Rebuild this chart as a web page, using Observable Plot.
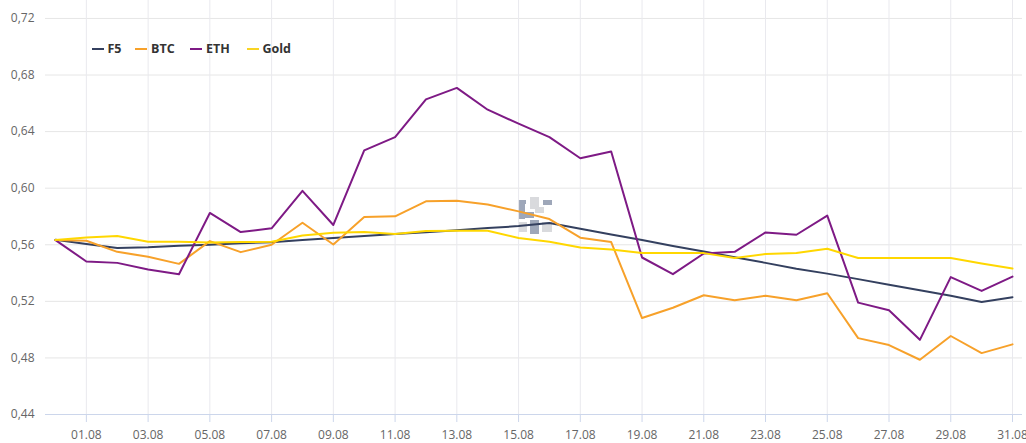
<!DOCTYPE html>
<html>
<head>
<meta charset="utf-8">
<script src="https://cdn.jsdelivr.net/npm/d3@7"></script>
<script src="https://cdn.jsdelivr.net/npm/@observablehq/plot@0.6"></script>
<style>
  html, body { margin: 0; padding: 0; background: #fff; }
  #wrap { position: relative; width: 1026px; height: 443px; overflow: hidden; font-family: "Open Sans", sans-serif; }
  #chart { position: absolute; left: 0; top: 0; z-index: 1; }
  #chart svg { background: transparent; display: block; }
  .wm { position: absolute; z-index: 0; }
  .wm.d { background: #9ea7b9; }
  .wm.l { background: #d9dadd; }
  #legend { position: absolute; left: 0; top: 0; z-index: 2; }
  .item { position: absolute; top: 39px; height: 18px; display: flex; align-items: center; font-weight: 700; font-size: 12.5px; color: #333; white-space: nowrap; }
  .dash { width: 12px; height: 2px; margin-right: 4px; margin-top: 1px; }
</style>
</head>
<body>
<div id="wrap">
  <div class="wm d" style="left:518px;top:200px;width:7px;height:19px"></div>
  <div class="wm d" style="left:518px;top:200px;width:8px;height:4px"></div>
  <div class="wm d" style="left:518px;top:212px;width:16px;height:6px"></div>
  <div class="wm l" style="left:530px;top:197px;width:9px;height:12px"></div>
  <div class="wm l" style="left:535px;top:207px;width:9px;height:6px"></div>
  <div class="wm d" style="left:543px;top:200px;width:9px;height:5px"></div>
  <div class="wm d" style="left:530px;top:220px;width:9px;height:14px"></div>
  <div class="wm l" style="left:518px;top:222px;width:9px;height:10px"></div>
  <div class="wm l" style="left:542px;top:222px;width:10px;height:10px"></div>
  <div id="chart"></div>
  <div id="legend"></div>
</div>
<script>
// ---- data ----
const dates = [
  "2023-07-31","2023-08-01","2023-08-02","2023-08-03","2023-08-04","2023-08-05","2023-08-06","2023-08-07",
  "2023-08-08","2023-08-09","2023-08-10","2023-08-11","2023-08-12","2023-08-13","2023-08-14","2023-08-15",
  "2023-08-16","2023-08-17","2023-08-18","2023-08-19","2023-08-20","2023-08-21","2023-08-22","2023-08-23",
  "2023-08-24","2023-08-25","2023-08-26","2023-08-27","2023-08-28","2023-08-29","2023-08-30","2023-08-31"
];
const seriesNames = ["F5", "BTC", "ETH", "Gold"];
const seriesColors = ["#34405f", "#f7a12a", "#7e1a85", "#f9d423"];

const f5 = [0.5635, 0.5605, 0.5577, 0.5582, 0.5593, 0.5601, 0.5610, 0.5618, 0.5633, 0.5647, 0.5662, 0.5676,
            0.5689, 0.5703, 0.5718, 0.5732, 0.5754, 0.5713, 0.5673, 0.5633, 0.5592, 0.5552, 0.5512, 0.5472,
            0.5431, 0.5396, 0.5357, 0.5318, 0.5279, 0.5239, 0.5196, 0.5229];
const btc = [0.5633, 0.5628, 0.5550, 0.5515, 0.5465, 0.5626, 0.5548, 0.5600, 0.5756, 0.5602, 0.5796, 0.5801,
             0.5907, 0.5912, 0.5884, 0.5836, 0.5782, 0.5650, 0.5619, 0.5082, 0.5155, 0.5243, 0.5208, 0.5240,
             0.5208, 0.5257, 0.4940, 0.4891, 0.4787, 0.4955, 0.4834, 0.4896];
const eth = [0.5633, 0.5482, 0.5472, 0.5425, 0.5392, 0.5825, 0.5690, 0.5716, 0.5981, 0.5740, 0.6267, 0.6361,
             0.6628, 0.6709, 0.6555, 0.6456, 0.6361, 0.6212, 0.6260, 0.5510, 0.5392, 0.5538, 0.5550, 0.5687,
             0.5671, 0.5806, 0.5191, 0.5137, 0.4928, 0.5371, 0.5274, 0.5375];
const gold = [0.5633, 0.5652, 0.5662, 0.5621, 0.5621, 0.5616, 0.5619, 0.5621, 0.5666, 0.5685, 0.5690, 0.5676,
              0.5697, 0.5699, 0.5699, 0.5648, 0.5621, 0.5581, 0.5567, 0.5541, 0.5541, 0.5541, 0.5506, 0.5534,
              0.5541, 0.5572, 0.5506, 0.5506, 0.5506, 0.5506, 0.5468, 0.5432];

const xTickLabels = ["01.08","03.08","05.08","07.08","09.08","11.08","13.08","15.08",
                     "17.08","19.08","21.08","23.08","25.08","27.08","29.08","31.08"];
const yTicks = [0.44, 0.48, 0.52, 0.56, 0.60, 0.64, 0.68, 0.72];

// ---- build ----
const parse = d3.utcParse("%Y-%m-%d");
const seriesValues = [f5, btc, eth, gold];
const rows = [];
seriesNames.forEach((name, s) => {
  seriesValues[s].forEach((v, i) => rows.push({series: name, date: parse(dates[i]), value: v}));
});
const xTicks = xTickLabels.map(l => {
  const [dd, mm] = l.split(".");
  return parse(`2023-${mm}-${dd}`);
});
const first = parse(dates[0]), last = parse(dates[dates.length - 1]);
const pad = 0.324 * 864e5;

const chart = Plot.plot({
  width: 1026,
  height: 443,
  marginLeft: 45,
  marginRight: 4,
  marginTop: 0,
  marginBottom: 29,
  style: {fontFamily: "'Open Sans', sans-serif", fontSize: "12px", color: "#666", background: "transparent", overflow: "visible"},
  x: {type: "utc", domain: [new Date(+first - pad), new Date(+last + pad)], label: null},
  y: {domain: [0.44, 0.7327], label: null},
  color: {domain: seriesNames, range: seriesColors},
  marks: [
    Plot.gridY(yTicks.filter(t => t > 0.44), {stroke: "#e6e6e6", strokeOpacity: 1}),
    Plot.gridX(xTicks, {stroke: "#e9e9ee", strokeOpacity: 1}),
    Plot.ruleY([0.44], {stroke: "#ccd6eb"}),
    Plot.axisX(xTicks, {tickSize: 8, tickPadding: 8, stroke: "#ccd6eb", fill: "#666", label: null, tickFormat: d3.utcFormat("%d.%m")}),
    Plot.axisY(yTicks, {tickSize: 0, tickPadding: 11, fill: "#666", label: null, tickFormat: d => d.toFixed(2).replace(".", ",")}),
    ...seriesNames.map(name =>
      Plot.line(rows.filter(r => r.series === name), {x: "date", y: "value", stroke: "series", strokeWidth: 2, curve: "linear"})
    )
  ]
});
document.getElementById("chart").appendChild(chart);

// legend (inside plot area, top-left)
const legendLefts = [91.5, 135, 190, 246.5];
const legend = document.getElementById("legend");
seriesNames.forEach((name, i) => {
  const item = document.createElement("div");
  item.className = "item";
  item.style.left = legendLefts[i] + "px";
  item.innerHTML = `<span class="dash" style="background:${seriesColors[i]}"></span><span>${name}</span>`;
  legend.appendChild(item);
});
</script>
</body>
</html>
